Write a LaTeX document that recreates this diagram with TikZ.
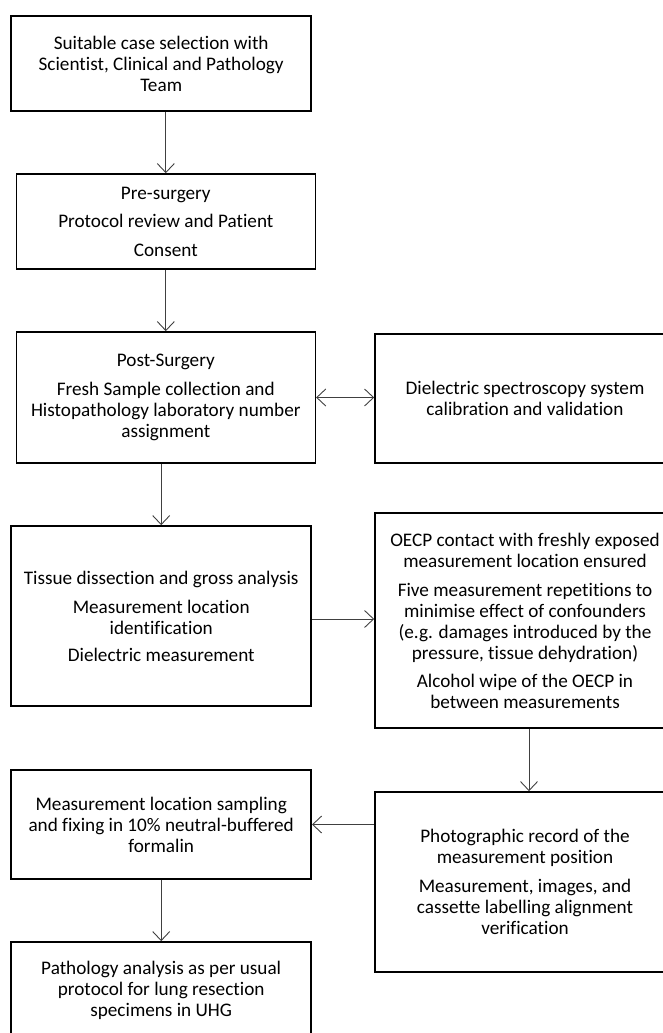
\documentclass[tikz,border=0pt]{standalone}
\usepackage{fontspec}
\setmainfont{Carlito}[Ligatures=NoCommon]
\usetikzlibrary{arrows.meta}

\tikzset{
  stage/.style={draw, line width=1.6pt, align=center, inner sep=0pt,
    font=\fontsize{19.2}{21}\selectfont},
  flow/.style={line width=0.9pt, draw=black!75},
}

\begin{document}
\begin{tikzpicture}[x=1pt, y=-1pt, >={Straight Barb[length=9pt,width=17pt]}]
            \useasboundingbox (0,0) rectangle (662,1033);

            % Left column of boxes
            \node[stage, minimum width=300, minimum height=95] (Case Selection) at (161.2,63.5)
              {Suitable case selection with\\Scientist, Clinical and Pathology\\Team};
            \node[stage, minimum width=299, minimum height=95] (Pre Surgery) at (165.8,221.5)
              {Pre-surgery\\[7.5pt]Protocol review and Patient\\[7.5pt]Consent};
            \node[stage, minimum width=299, minimum height=131] (Post Surgery) at (165.8,397.5)
              {Post-Surgery\\[8pt]Fresh Sample collection and\\Histopathology laboratory number\\assignment};
            \node[stage, minimum width=300, minimum height=180] (Dissection) at (161.2,616)
              {Tissue dissection and gross analysis\\[8pt]Measurement location\\identification\\[6pt]Dielectric measurement};
            \node[stage, minimum width=300, minimum height=109] (Fixing) at (161.2,824.5)
              {Measurement location sampling\\and fixing in 10\% neutral-buffered\\formalin};
            \node[stage, minimum width=300, minimum height=96] (Pathology) at (161.2,990)
              {Pathology analysis as per usual\\protocol for lung resection\\specimens in UHG};

            % Right column of boxes
            \node[stage, minimum width=300, minimum height=129] (Calibration) at (525,398.5)
              {Dielectric spectroscopy system\\calibration and validation};
            \node[stage, minimum width=300, minimum height=215] (Contact) at (525,620.5)
              {OECP contact with freshly exposed\\measurement location ensured\\[8pt]Five measurement repetitions to\\minimise effect of confounders\\(e.g. damages introduced by the\\pressure, tissue dehydration)\\[7pt]Alcohol wipe of the OECP in\\between measurements};
            \node[stage, minimum width=300, minimum height=180] (Photo Record) at (525,882)
              {Photographic record of the\\measurement position\\[8pt]Measurement, images, and\\cassette labelling alignment\\verification};

            % Arrows
            \draw[flow, ->] (Case Selection.south -| Pre Surgery.north) -- (Pre Surgery.north);
            \draw[flow, ->] (Pre Surgery) -- (Post Surgery);
            \draw[flow, ->] (Post Surgery.south -| Dissection.north) -- (Dissection.north);
            \draw[flow, <->] (Post Surgery.east) -- (Post Surgery.east -| Calibration.west);
            \draw[flow, ->] (Dissection.east |- 0,619) -- (Contact.west |- 0,619);
            \draw[flow, ->] (Contact.south -| 529,0) -- (Photo Record.north -| 529,0);
            \draw[flow, ->] (Photo Record.west |- Fixing.east) -- (Fixing.east);
            \draw[flow, ->] (Fixing) -- (Pathology);
\end{tikzpicture}
\end{document}
